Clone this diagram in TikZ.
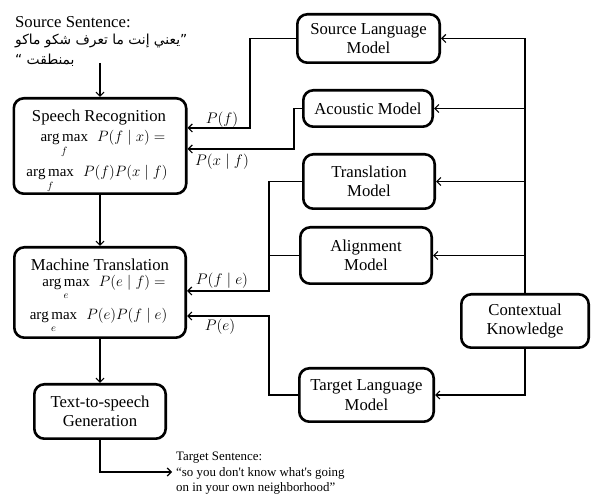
\RequirePackage{fix-cm}
\documentclass[tikz,border=0pt]{standalone}
\usepackage{amsmath}
\usepackage{fontspec}
\setmainfont{Liberation Serif}
\newfontfamily\arabicfont[Script=Arabic]{DejaVu Sans}
\TeXXeTstate=1
\usetikzlibrary{arrows.meta}
\newcommand{\amax}[1]{\mathop{\mathrm{arg\,max}}\limits_{#1}\;\,}
\begin{document}
\begin{tikzpicture}[x=1pt,y=-1pt,
  font=\fontsize{16.7}{19.5}\selectfont,
  box/.style={draw, line width=2.6pt, rounded corners=10pt, align=center, inner sep=2pt},
  conn/.style={line width=1.2pt},
  arr/.style={conn, -{Straight Barb[length=4pt,width=8pt]}},
  lbl/.style={inner sep=0pt, font=\fontsize{15.3}{18}\selectfont},
  txt/.style={inner sep=0pt},
  mth/.style={inner sep=0pt, font=\fontsize{15}{18}\selectfont}]
\useasboundingbox (0,0) rectangle (592,502);

% left column boxes
\node[box, minimum width=172.4pt, minimum height=95.4pt] (sr) at (100,146) {};
\node[txt, anchor=base] (srt) at (99,122) {Speech Recognition};
\node[mth, anchor=base] (sr1) at (103,142) {$\amax{f} P(f\mid x) =$};
\node[mth, anchor=base] (sr2) at (97,177) {$\amax{f} P(f)P(x\mid f)$};

\node[box, minimum width=171.4pt, minimum height=90.4pt] (mt) at (100,292.5) {};
\node[txt, anchor=base] (mtt) at (100,270.5) {Machine Translation};
\node[mth, anchor=base] (mt1) at (104,286.5) {$\amax{e} P(e\mid f) =$};
\node[mth, anchor=base] (mt2) at (98.5,320) {$\amax{e} P(e)P(f\mid e)$};

\node[box, minimum width=131.4pt, minimum height=54.4pt] (tts) at (100,411.5) {Text-to-speech\\Generation};

% right column boxes
\node[box, minimum width=142.4pt, minimum height=48.4pt] (slm) at (368.5,38.5) {Source Language\\Model};
\node[box, minimum width=129.4pt, minimum height=36.4pt] (am) at (368,108.5) {Acoustic Model};
\node[box, minimum width=131.4pt, minimum height=54.4pt] (tm) at (369,181.5) {Translation\\Model};
\node[box, minimum width=131.4pt, minimum height=56.4pt] (alm) at (366,255.5) {Alignment\\Model};
\node[box, minimum width=134.4pt, minimum height=53.4pt] (tlm) at (366.5,395) {Target Language\\Model};
\node[box, minimum width=127.4pt, minimum height=53.4pt] (ck) at (525,321) {Contextual\\Knowledge};

% source sentence
\node[txt, anchor=base west] (src) at (15,28) {Source Sentence:};
\node[txt, anchor=base west] (ar1) at (15,45) {\arabicfont\fontsize{13.8}{16}\selectfont\beginR ”يعني إنت ما تعرف شكو ماكو\endR};
\node[txt, anchor=base west] (ar2) at (15,65) {\arabicfont\fontsize{13.8}{16}\selectfont\beginR بمنطقت “\endR};
\coordinate (srcend) at (100,63);

% target sentence
\node[txt, anchor=base west, align=left, font=\fontsize{12.9}{15.5}\selectfont] (tgt) at (176,492)
  {Target Sentence:\\“so you don\textquotesingle t know what\textquotesingle s going\\on in your own neighborhood”};
\coordinate (tgtarr) at (172,472);

% main flow
\draw[arr] (srcend) -- (sr.north);
\draw[arr] (sr.south) -- (mt.north);
\draw[arr] (mt.south) -- (tts.north);
\draw[arr] (tts.south) |- (tgtarr);

% model links into decoders
\coordinate (pf) at (250,128);
\coordinate (pxf) at (294,149);
\coordinate (pfe) at (269,291);
\coordinate (pe) at (269,316);
\draw[arr] (slm.west) -| (pf) -- (sr.east |- pf);
\draw[arr] (am.west) -| (pxf) -- (sr.east |- pxf);
\draw[arr] (tm.west) -| (pfe) -- (mt.east |- pfe);
\draw[conn] (alm.west) -- (alm.west -| pfe);
\draw[arr] (tlm.west) -| (pe) -- (mt.east |- pe);

% labels
\node[lbl] (lpf) at (222,120) {$P(f)$};
\node[lbl] (lpxf) at (222,162) {$P(x\mid f)$};
\node[lbl] (lpfe) at (222,281) {$P(f\mid e)$};
\node[lbl] (lpe) at (220,327) {$P(e)$};

% contextual knowledge
\draw[arr] (ck.north) |- (slm.east);
\draw[arr] (ck.north |- am.east) -- (am.east);
\draw[arr] (ck.north |- tm.east) -- (tm.east);
\draw[arr] (ck.north |- alm.east) -- (alm.east);
\draw[arr] (ck.south) |- (tlm.east);
\end{tikzpicture}
\end{document}
